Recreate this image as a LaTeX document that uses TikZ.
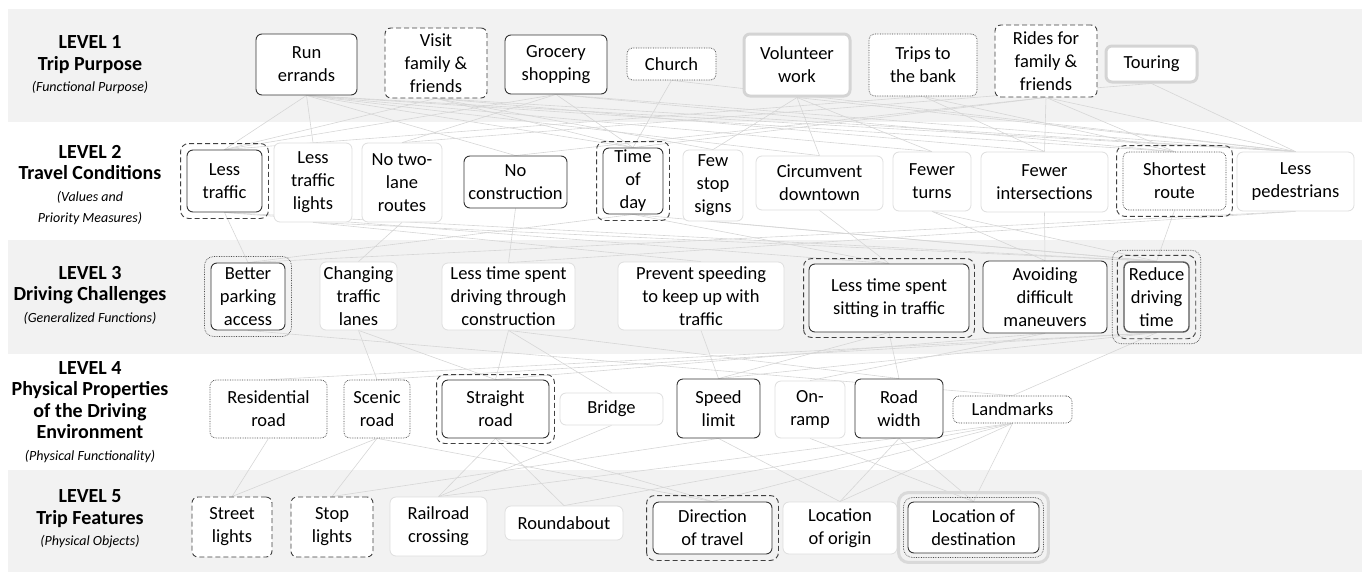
\documentclass[tikz,border=0pt]{standalone}
\usepackage{fontspec}
\setmainfont{Carlito}
\usetikzlibrary{backgrounds}
\newcommand{\lvlsub}[1]{{\normalfont\itshape\fontsize{14}{17}\selectfont #1}}

\begin{document}
\begin{tikzpicture}[x=1pt, y=-1pt,
    box/.style={rounded corners=6pt, fill=white, align=center, inner sep=1pt,
                font=\fontsize{18.5}{23}\selectfont},
    firm/.style={box, draw=black!80, line width=0.9pt},
    faint/.style={box, draw=black!13, line width=0.8pt},
    dashbox/.style={box, draw=black!75, dash pattern=on 5pt off 3pt, line width=0.9pt},
    dotbox/.style={box, draw=black!75, densely dotted, line width=0.7pt},
    heavy/.style={box, draw=black!17, line width=3pt},
    wh/.style 2 args={minimum width=#1pt, minimum height=#2pt},
    ring/.style={draw=black!75, dash pattern=on 5pt off 3pt, line width=0.9pt, rounded corners=8pt},
    dotring/.style={draw=black!70, densely dotted, line width=0.7pt, rounded corners=9pt},
    grayring/.style={draw=black!15, line width=3pt, rounded corners=10pt},
    link/.style={draw=black!16, line width=0.6pt},
    band/.style={fill=black!5},
    lvl/.style={align=center, font=\fontsize{20}{21.5}\selectfont\bfseries}
]
\useasboundingbox (0,0) rectangle (1362,581);
\begin{scope}[on background layer]
\fill[band] (8,9) rectangle (1362,122);
\fill[band] (8,240) rectangle (1362,354);
\fill[band] (8,470) rectangle (1362,572);
\end{scope}

\node[lvl] (lv1) at (90,65) {LEVEL 1\\Trip Purpose\\\lvlsub{(Functional Purpose)}};
\node[lvl] (lv2) at (90,185) {LEVEL 2\\Travel Conditions\\\lvlsub{(Values and}\\\lvlsub{Priority Measures)}};
\node[lvl] (lv3) at (90,295) {LEVEL 3\\Driving Challenges\\\lvlsub{(Generalized Functions)}};
\node[lvl] (lv4) at (90,412) {LEVEL 4\\Physical Properties\\of the Driving\\Environment\\\lvlsub{(Physical Functionality)}};
\node[lvl] (lv5) at (90,519) {LEVEL 5\\Trip Features\\\lvlsub{(Physical Objects)}};

\node[firm, wh={101}{61}] (run) at (306.5,64.5) {Run\\errands};
\node[dashbox, wh={102}{70}] (visit) at (436,63) {Visit\\family \&\\friends};
\node[firm, wh={102}{59}] (groc) at (556,64.5) {Grocery\\shopping};
\node[dotbox, wh={89}{32}] (church) at (671.5,64) {Church};
\node[heavy, wh={106}{62}] (volun) at (797,65) {Volunteer\\work};
\node[dotbox, wh={108}{62}] (bank) at (923,65) {Trips to\\the bank};
\node[dashbox, wh={102}{72}] (rides) at (1046,61) {Rides for\\family \&\\friends};
\node[heavy, wh={91}{36}] (tour) at (1151.5,64) {Touring};

\node[firm, wh={75}{62}] (ltraf) at (224.5,181) {Less\\traffic};
\node[faint, wh={78}{79}] (llight) at (313,182.5) {Less\\traffic\\lights};
\node[faint, wh={80}{79}] (twolane) at (402,182.5) {No two-\\lane\\routes};
\node[firm, wh={103}{52}] (nocon) at (515.5,182) {No\\construction};
\node[firm, wh={60}{66}] (tday) at (633,181) {Time\\of\\day};
\node[faint, wh={60}{71}] (fstop) at (713,185.5) {Few\\stop\\signs};
\node[faint, wh={127}{54}] (circ) at (819.5,183) {Circumvent\\downtown};
\node[faint, wh={78}{59}] (fturn) at (932,181.5) {Fewer\\turns};
\node[faint, wh={127}{60}] (finter) at (1044.5,182) {Fewer\\intersections};
\node[dotbox, wh={103}{58}] (short) at (1174.5,181) {Shortest\\route};
\node[faint, wh={117}{59}] (lped) at (1295.5,181.5) {Less\\pedestrians};

\node[firm, wh={74}{67}] (park) at (248,296.5) {Better\\parking\\access};
\node[faint, wh={77}{68}] (lanes) at (358.5,296) {Changing\\traffic\\lanes};
\node[faint, wh={133}{67}] (thru) at (508.5,296.5) {Less time spent\\driving through\\construction};
\node[faint, wh={166}{68}] (speedg) at (701,296) {Prevent speeding\\to keep up with\\traffic};
\node[firm, wh={160}{68}] (sit) at (889,298) {Less time spent\\sitting in traffic};
\node[firm, wh={124}{72}] (avoid) at (1045,297) {Avoiding\\difficult\\maneuvers};
\node[box, draw=black!65, line width=1.4pt, wh={65}{70}] (reduce) at (1156.5,297) {Reduce\\driving\\time};

\node[dotbox, wh={117}{58}] (resid) at (268.5,409) {Residential\\road};
\node[dotbox, wh={66}{58}] (scenic) at (377,409) {Scenic\\road};
\node[firm, wh={107}{58}] (straight) at (495.5,409) {Straight\\road};
\node[faint, wh={103}{32}] (bridge) at (611.5,409) {Bridge};
\node[firm, wh={83}{59}] (slimit) at (718.5,408.5) {Speed\\limit};
\node[faint, wh={70}{57}] (onramp) at (810,409.5) {On-\\ramp};
\node[firm, wh={88}{59}] (rwidth) at (899,408.5) {Road\\width};
\node[dotbox, wh={119}{27}] (landm) at (1012.5,409.5) {Landmarks};

\node[dashbox, wh={80}{60}] (street) at (232,527) {Street\\lights};
\node[dashbox, wh={82}{60}] (stopl) at (332,527) {Stop\\lights};
\node[faint, wh={97}{59}] (rail) at (438.5,526.5) {Railroad\\crossing};
\node[faint, wh={118}{34}] (round) at (564,523) {Roundabout};
\node[firm, wh={119}{52}] (dir) at (712.5,528) {Direction\\of travel};
\node[faint, wh={114}{52}] (orig) at (840,528) {Location\\of origin};
\node[firm, wh={131}{51}] (dest) at (973.5,527.5) {Location of\\destination};

\draw[ring] ([shift={(-6pt,-6pt)}]ltraf.south west) rectangle ([shift={(6pt,6pt)}]ltraf.north east);
\draw[ring] ([shift={(-6pt,-6pt)}]tday.south west) rectangle ([shift={(6pt,6pt)}]tday.north east);
\draw[ring] ([shift={(-6pt,-6pt)}]short.south west) rectangle ([shift={(6pt,6pt)}]short.north east);
\draw[dotring] ([shift={(-6pt,-6pt)}]park.south west) rectangle ([shift={(6pt,6pt)}]park.north east);
\draw[ring] ([shift={(-5pt,-5pt)}]sit.south west) rectangle ([shift={(5pt,5pt)}]sit.north east);
\draw[ring] ([shift={(-6pt,-6pt)}]reduce.south west) rectangle ([shift={(6pt,6pt)}]reduce.north east);
\draw[dotring] ([shift={(-11pt,-11pt)}]reduce.south west) rectangle ([shift={(11pt,11pt)}]reduce.north east);
\draw[ring] ([shift={(-5pt,-5pt)}]straight.south west) rectangle ([shift={(5pt,5pt)}]straight.north east);
\draw[ring] ([shift={(-6pt,-6pt)}]dir.south west) rectangle ([shift={(6pt,6pt)}]dir.north east);
\draw[dotring] ([shift={(-4pt,-4pt)}]dest.south west) rectangle ([shift={(4pt,4pt)}]dest.north east);
\draw[grayring] ([shift={(-9pt,-9pt)}]dest.south west) rectangle ([shift={(9pt,9pt)}]dest.north east);

\begin{scope}[on background layer]
\foreach \a/\b in {run/ltraf, run/llight, run/nocon, run/tday, run/circ, run/fturn, run/short, run/lped,
    visit/ltraf, visit/tday, visit/fstop, visit/finter, visit/lped,
    groc/ltraf, groc/twolane, groc/tday, groc/short, groc/lped, church/tday, church/lped,
    volun/fstop, volun/circ, volun/fturn, volun/lped, bank/ltraf, bank/finter, bank/short,
    rides/nocon, rides/tday, rides/finter, rides/short, rides/lped, tour/lped, tour/twolane,
    ltraf/sit, ltraf/reduce, ltraf/park, llight/reduce, llight/speedg, twolane/lanes, nocon/thru,
    tday/park, tday/sit, tday/reduce, fstop/reduce, circ/sit, fturn/avoid, fturn/reduce,
    finter/avoid, short/reduce, lped/park, lped/thru,
    park/landm, lanes/scenic, lanes/straight, thru/straight, thru/bridge, thru/rwidth,
    speedg/slimit, sit/rwidth, sit/slimit, avoid/straight, avoid/onramp,
    reduce/landm, reduce/slimit, reduce/resid, reduce/scenic,
    resid/street, scenic/stopl, scenic/dir, scenic/street, straight/dir, straight/round,
    straight/rail, bridge/rail, slimit/stopl, slimit/orig, onramp/dest, rwidth/orig, rwidth/dest,
    landm/dest, landm/orig, landm/dir, landm/round, landm/rail}
  \draw[link] (\a.south) -- (\b.north);
\end{scope}
\end{tikzpicture}
\end{document}
